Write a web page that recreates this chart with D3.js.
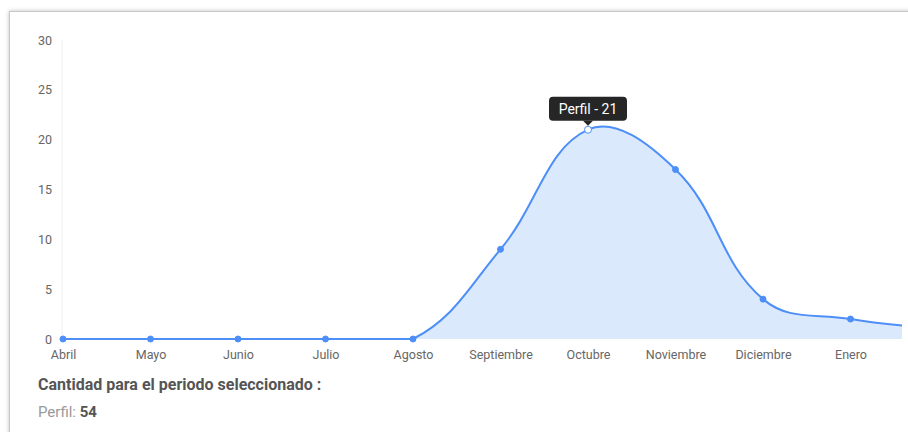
<!DOCTYPE html>
<html>
  <head>
    <meta charset="UTF-8" />
    <script src="https://cdnjs.cloudflare.com/ajax/libs/d3/7.8.5/d3.min.js"></script>
    <style>
      body {
        margin: 0;
        width: 908px;
        height: 432px;
        overflow: hidden;
        background: #fff;
        font-family: Roboto, "Liberation Sans", Arial, sans-serif;
      }
      #card {
        position: absolute;
        left: 9px;
        top: 11px;
        width: 960px;
        height: 460px;
        border: 1px solid #c8c8c8;
        box-shadow: 0 0 4px rgba(0, 0, 0, 0.25);
        background: #fff;
      }
      svg {
        position: absolute;
        left: 0;
        top: 0;
      }
      .tick text {
        fill: #666;
        font-size: 12.5px;
        font-family: Roboto, "Liberation Sans", Arial, sans-serif;
      }
      path.domain {
        stroke: none;
      }
      .summary {
        position: absolute;
        left: 38px;
        color: #555;
        line-height: 1;
      }
    </style>
  </head>
  <body>
    <div id="card"></div>
    <svg width="960" height="432"></svg>
    <div class="summary" style="top:377px;font-size:16px;font-weight:bold;">Cantidad para el periodo seleccionado :</div>
    <div class="summary" style="top:405px;font-size:15px;"><span style="color:#999">Perfil:</span> <b>54</b></div>
    <script>
      let months = ["Abril", "Mayo", "Junio", "Julio", "Agosto", "Septiembre", "Octubre", "Noviembre", "Diciembre", "Enero", "Febrero"];
      let perfil = [0, 0, 0, 0, 0, 9, 21, 17, 4, 2, 1];
      let yTicks = [0, 5, 10, 15, 20, 25, 30];
      let hovered = "Octubre";

      let svg = d3.select("svg");
      let pLeft = 62, pRight = 902, pTop = 40, pBottom = 339;

      let xScale = d3.scalePoint().domain(months).range([63, 938]);
      let yScale = d3.scaleLinear().domain([0, 30]).range([pBottom, pTop]);

      svg.append("clipPath").attr("id", "plot")
        .append("rect").attr("x", pLeft - 8).attr("y", pTop - 10)
        .attr("width", pRight - pLeft + 8).attr("height", pBottom - pTop + 16);

      svg.append("line")
        .attr("x1", pLeft).attr("x2", pLeft).attr("y1", pTop).attr("y2", pBottom)
        .style("stroke", "#f0f0f0");

      svg.append("g")
        .attr("transform", `translate(${pLeft},0)`)
        .call(d3.axisLeft(yScale).tickValues(yTicks).tickSize(0).tickPadding(10));

      // only the months that fall inside the visible chart area get a label
      svg.append("g")
        .attr("transform", `translate(0,${pBottom})`)
        .call(d3.axisBottom(xScale)
          .tickValues(months.filter(m => xScale(m) <= pRight))
          .tickSize(0).tickPadding(11));

      // spline with tension 0.4, control points kept inside the chart area
      let pts = months.map((m, i) => ({ x: xScale(m), y: yScale(perfil[i]) }));
      pts.forEach((p, i) => {
        let prev = pts[i - 1] || p, next = pts[i + 1] || p;
        let d01 = Math.hypot(p.x - prev.x, p.y - prev.y);
        let d12 = Math.hypot(next.x - p.x, next.y - p.y);
        let s01 = d01 / (d01 + d12) || 0, s12 = d12 / (d01 + d12) || 0;
        let fa = 0.4 * s01, fb = 0.4 * s12;
        p.cpx0 = p.x - fa * (next.x - prev.x);
        p.cpy0 = Math.min(pBottom, Math.max(pTop, p.y - fa * (next.y - prev.y)));
        p.cpx1 = p.x + fb * (next.x - prev.x);
        p.cpy1 = Math.min(pBottom, Math.max(pTop, p.y + fb * (next.y - prev.y)));
      });

      function spline(path) {
        path.moveTo(pts[0].x, pts[0].y);
        for (let i = 1; i < pts.length; i++) {
          let a = pts[i - 1], b = pts[i];
          path.bezierCurveTo(a.cpx1, a.cpy1, b.cpx0, b.cpy0, b.x, b.y);
        }
        return path;
      }

      let plot = svg.append("g").attr("clip-path", "url(#plot)");

      let area = spline(d3.path());
      area.lineTo(pts[pts.length - 1].x, pBottom);
      area.lineTo(pts[0].x, pBottom);
      area.closePath();
      plot.append("path").attr("d", area.toString())
        .style("fill", "rgba(77,143,247,0.2)");

      plot.append("path").attr("d", spline(d3.path()).toString())
        .style("fill", "none").style("stroke", "#4d8ff7").style("stroke-width", 2);

      plot.selectAll("circle")
        .data(months)
        .enter()
        .append("circle")
        .attr("cx", d => xScale(d))
        .attr("cy", (d, i) => yScale(perfil[i]))
        .attr("r", d => (d === hovered ? 3.5 : 3))
        .style("fill", d => (d === hovered ? "#fff" : "#4d8ff7"))
        .style("stroke", "#4d8ff7")
        .style("stroke-width", 1);

      // tooltip
      let hi = months.indexOf(hovered);
      let tx = xScale(hovered), ty = yScale(perfil[hi]);
      let tip = svg.append("g").attr("transform", `translate(${tx},${ty})`);
      tip.append("rect")
        .attr("x", -39).attr("y", -33).attr("width", 78).attr("height", 24)
        .attr("rx", 4).style("fill", "rgba(0,0,0,0.85)");
      tip.append("path").attr("d", "M-5,-9L5,-9L0,-4Z").style("fill", "rgba(0,0,0,0.85)");
      tip.append("text")
        .attr("y", -21).attr("dy", "0.35em").attr("text-anchor", "middle")
        .style("fill", "#fff").style("font-size", "14px")
        .text(`Perfil - ${perfil[hi]}`);
    </script>
  </body>
</html>
